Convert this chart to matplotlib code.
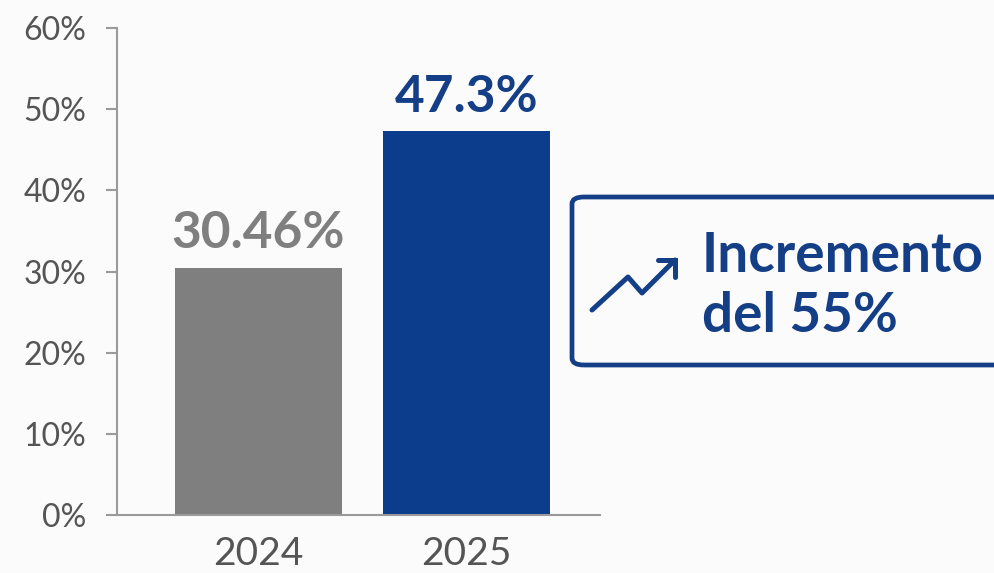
import numpy as np
import matplotlib
matplotlib.use("Agg")
import matplotlib.pyplot as plt
from matplotlib.patches import FancyBboxPatch
from matplotlib.lines import Line2D

years = ["2024", "2025"]
shares = [30.46, 47.3]
share_labels = ["30.46%", "47.3%"]
yticks = [0, 10, 20, 30, 40, 50, 60]
callout = "Incremento\ndel 55%"

grey = "#7f7f7f"
blue = "#0b3d8c"
text_blue = "#143f86"

plt.rcParams['font.family'] = ['Lato', 'DejaVu Sans']

W, H = 994, 573
fig = plt.figure(figsize=(W / 100, H / 100), dpi=100, facecolor="#fbfbfb")
ax = fig.add_axes([117 / W, 1 - 515 / H, (600 - 117) / W, (515 - 28) / H])
ax.set_facecolor("none")

x = np.arange(len(years))
ax.bar(x, shares, width=0.8, color=[grey, blue], zorder=2)
ax.set_xlim(-0.68, 1.64)
ax.set_ylim(0, 60)

for xi, v, lab, c in zip(x, shares, share_labels, [grey, text_blue]):
    ax.annotate(lab, (xi, v), xytext=(0, 14), textcoords="offset points",
                ha="center", va="baseline", fontsize=37, fontweight="bold", color=c)

ax.set_yticks(yticks)
ax.set_yticklabels([f"{t}%" for t in yticks])
ax.set_xticks(x)
ax.set_xticklabels(years)

for s in ["top", "right"]:
    ax.spines[s].set_visible(False)
for s in ["left", "bottom"]:
    ax.spines[s].set_color("#9a9a9a")
    ax.spines[s].set_linewidth(1.5)

ax.tick_params(axis="y", length=8, width=1.5, color="#9a9a9a", pad=14,
               labelsize=23, labelcolor="#555555")
ax.tick_params(axis="x", length=0, pad=15, labelsize=28, labelcolor="#555555")

# callout box
def fp(xp, yp):
    return (xp / W, 1 - yp / H)

box = FancyBboxPatch(fp(572, 365), (1040 - 572) / W, (365 - 197) / H,
                     boxstyle="round,pad=0,rounding_size=0.012",
                     transform=fig.transFigure, fill=False,
                     edgecolor=text_blue, linewidth=3.4, clip_on=False)
fig.patches.append(box)

pts = [fp(592, 310), fp(628, 277), fp(642, 293), fp(675, 260)]
fig.add_artist(Line2D([p[0] for p in pts], [p[1] for p in pts], transform=fig.transFigure,
                      color=text_blue, linewidth=3.6, solid_capstyle="round",
                      solid_joinstyle="round"))
head = [fp(658, 260), fp(675, 260), fp(675, 277)]
fig.add_artist(Line2D([p[0] for p in head], [p[1] for p in head], transform=fig.transFigure,
                      color=text_blue, linewidth=3.6, solid_capstyle="round",
                      solid_joinstyle="miter"))

lines = callout.split("\n")
fig.text(*fp(702, 272), lines[0], ha="left", va="baseline", fontsize=39.5,
         fontweight="bold", color=text_blue)
fig.text(*fp(702, 332), lines[1], ha="left", va="baseline", fontsize=39.5,
         fontweight="bold", color=text_blue)

fig.savefig("out.png", dpi=100, facecolor=fig.get_facecolor())
